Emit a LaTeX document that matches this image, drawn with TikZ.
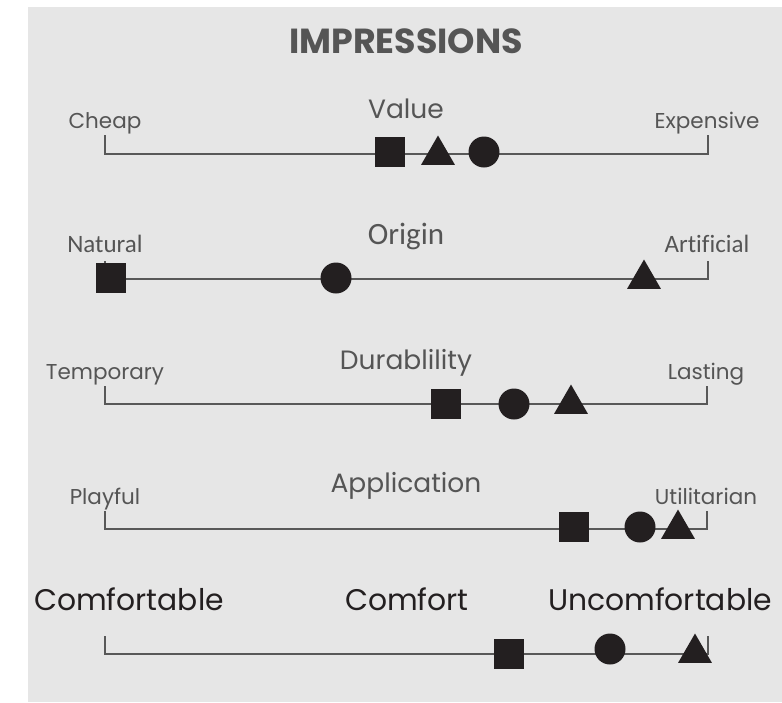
\documentclass[tikz,border=0pt]{standalone}
\usepackage{fontspec}
\setmainfont{Poppins}
\newfontfamily\narrowfont[Ligatures=NoCommon]{Carlito}
\usetikzlibrary{shapes.geometric}
\definecolor{bggray}{HTML}{E6E6E6}
\definecolor{txtgray}{HTML}{555555}
\definecolor{markblack}{HTML}{231F20}
\definecolor{linegray}{HTML}{585858}
\tikzset{
  scaleline/.style={draw=linegray, line width=2pt},
  endlabel/.style={anchor=base, text=txtgray, inner sep=0, font=\fontsize{21.5}{26}\selectfont},
  catlabel/.style={anchor=base, text=txtgray, inner sep=0, font=\fontsize{26.5}{32}\selectfont},
  biglabel/.style={anchor=base, text=markblack, inner sep=0, font=\fontsize{29.8}{36}\selectfont},
  sqmark/.style={rectangle, fill=markblack, inner sep=0, minimum size=30pt},
  dotmark/.style={circle, fill=markblack, inner sep=0, minimum size=31pt},
  trimark/.style={regular polygon, regular polygon sides=3, fill=markblack, inner sep=0, minimum size=39pt},
}
\begin{document}
\begin{tikzpicture}[x=1pt, y=-1pt]
        % Background:
        \fill[bggray] (28, 7) rectangle (782, 702);
        \useasboundingbox (0, 0) rectangle (782, 702);
        \node[anchor=base, text=txtgray, inner sep=0, font=\fontsize{34.8}{40}\selectfont\bfseries] (title) at (406, 53){IMPRESSIONS};
        % Value:
        \node[catlabel] (value) at (406, 118){Value};
        \node[endlabel] (cheap) at (105, 128){Cheap};
        \node[endlabel] (expensive) at (707, 128){Expensive};
        \coordinate (valL) at (105, 154);
        \coordinate (valR) at (708, 154);
        \draw[scaleline] (valL) ++(0, -19) -- (valL) -- (valR) -- ++(0, -19);
        \node[sqmark] (valsq) at (390, 152){};
        \node[trimark] (valtri) at (438, 155){};
        \node[dotmark] (valdot) at (484, 152){};
        % Origin:
        \node[catlabel, font=\narrowfont\fontsize{31}{36}\selectfont] (origin) at (406, 244){Origin};
        \node[endlabel, font=\narrowfont\fontsize{25}{30}\selectfont] (natural) at (105, 252){Natural};
        \node[endlabel, font=\narrowfont\fontsize{25}{30}\selectfont] (artificial) at (707, 252){Artificial};
        \coordinate (oriL) at (105, 279);
        \coordinate (oriR) at (708, 279);
        \draw[scaleline] (oriL) ++(0, -18) -- (oriL) -- (oriR) -- ++(0, -18);
        \node[sqmark] (orisq) at (111, 278){};
        \node[dotmark] (oridot) at (336, 278){};
        \node[trimark] (oritri) at (644, 279){};
        % Durability:
        \node[catlabel] (durability) at (406, 369){Durablility};
        \node[endlabel] (temporary) at (105, 379){Temporary};
        \node[endlabel] (lasting) at (706, 379){Lasting};
        \coordinate (durL) at (105, 404);
        \coordinate (durR) at (707, 404);
        \draw[scaleline] (durL) ++(0, -18) -- (durL) -- (durR) -- ++(0, -18);
        \node[sqmark] (dursq) at (446, 404){};
        \node[dotmark] (durdot) at (514, 404){};
        \node[trimark] (durtri) at (571, 404){};
        % Application:
        \node[catlabel] (application) at (406, 492){Application};
        \node[endlabel] (playful) at (105, 504){Playful};
        \node[endlabel] (utilitarian) at (706, 504){Utilitarian};
        \coordinate (appL) at (105, 529);
        \coordinate (appR) at (707, 529);
        \draw[scaleline] (appL) ++(0, -18) -- (appL) -- (appR) -- ++(0, -18);
        \node[sqmark] (appsq) at (574, 527){};
        \node[dotmark] (appdot) at (640, 527){};
        \node[trimark] (apptri) at (678, 529){};
        % Comfort:
        \node[biglabel] (comfort) at (407, 610){Comfort};
        \node[biglabel] (comfortable) at (129, 610){Comfortable};
        \node[biglabel] (uncomfortable) at (660, 610){Uncomfortable};
        \coordinate (comL) at (105, 654);
        \coordinate (comR) at (708, 654);
        \draw[scaleline] (comL) ++(0, -18) -- (comL) -- (comR) -- ++(0, -18);
        \node[sqmark] (comsq) at (509, 654){};
        \node[dotmark] (comdot) at (610, 649){};
        \node[trimark] (comtri) at (695, 653){};
      \end{tikzpicture}
\end{document}
